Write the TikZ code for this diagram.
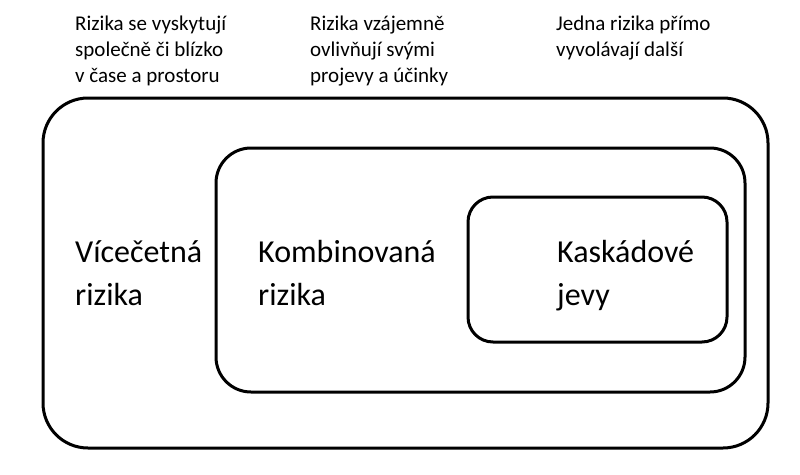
\documentclass[tikz,border=0pt]{standalone}
\usepackage{fontspec}
\setmainfont{Carlito}
\begin{document}
\begin{tikzpicture}[x=1pt,y=-1pt,
  box/.style={draw,line width=3pt},
  big/.style={anchor=base west,align=left,inner sep=0pt,font=\fontsize{32}{43}\selectfont},
  small/.style={anchor=base west,align=left,inner sep=0pt,font=\fontsize{21}{26}\selectfont}]
\useasboundingbox (0,0) rectangle (800,474);
\draw[box,rounded corners=45pt] (43,98) rectangle (768,448);
\draw[box,rounded corners=35pt] (216,148) rectangle (745,392);
\draw[box,rounded corners=25pt] (468,197) rectangle (727,342);
\node[big] (a) at (75,305) {Vícečetná\\rizika};
\node[big] (b) at (258,305) {Kombinovaná\\rizika};
\node[big] (c) at (557,305) {Kaskádové\\jevy};
\node[small] (t1) at (75,82) {Rizika se vyskytují\\společně či blízko\\v čase a prostoru};
\node[small] (t2) at (310,82) {Rizika vzájemně\\ovlivňují svými\\projevy a účinky};
\node[small] (t3) at (556,56) {Jedna rizika přímo\\vyvolávají další};
\end{tikzpicture}
\end{document}
